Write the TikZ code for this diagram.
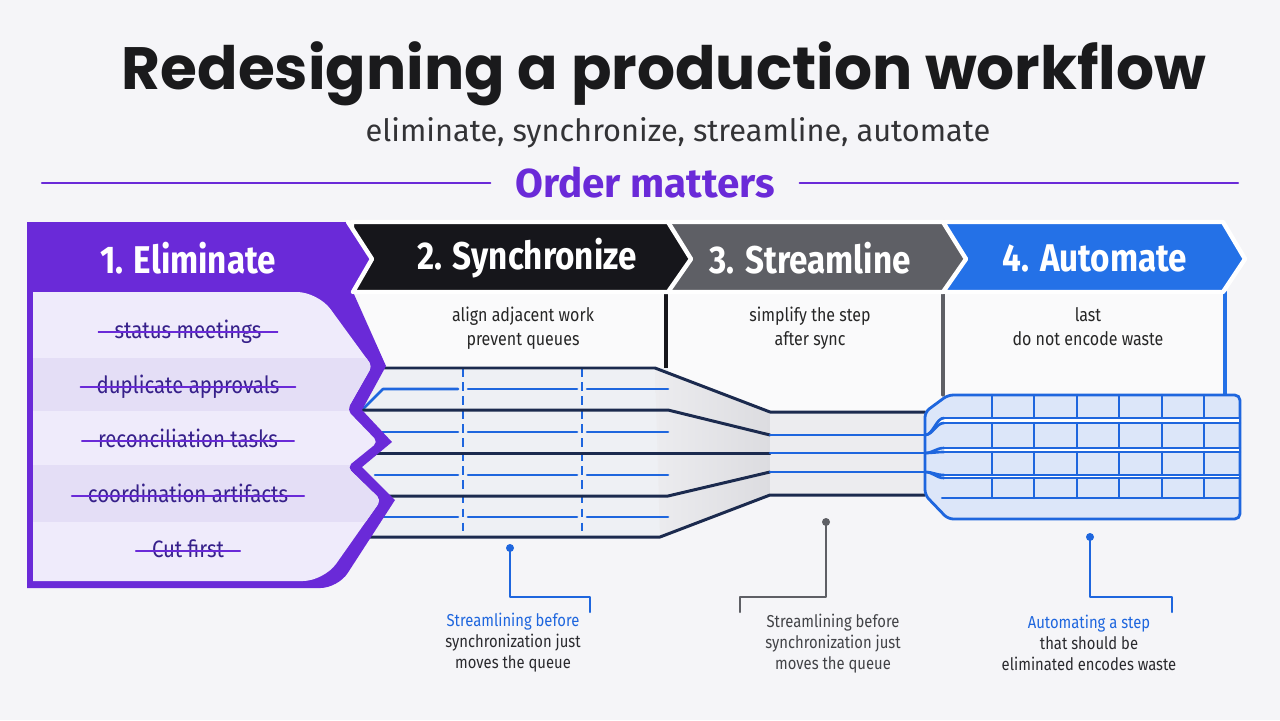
\documentclass[tikz,border=0pt]{standalone}
\usepackage{fontspec}
\setmainfont{Fira Sans}
\newfontfamily\titlefont{Poppins}
\newfontfamily\narrowfont{Fira Sans}[FakeStretch=0.86]
\usepackage{xcolor}
\usetikzlibrary{arrows.meta}

\definecolor{pagebg}{HTML}{F5F5F8}
\definecolor{titleink}{HTML}{1A1A1C}
\definecolor{subink}{HTML}{333336}
\definecolor{elimpurple}{HTML}{6A2AD8}
\definecolor{lavender}{HTML}{EFEBFB}
\definecolor{lavenderdark}{HTML}{E4DEF6}
\definecolor{inkpurple}{HTML}{36208A}
\definecolor{syncblack}{HTML}{16161B}
\definecolor{streamgray}{HTML}{5E5F65}
\definecolor{autoblue}{HTML}{2471E7}
\definecolor{pipeblue}{HTML}{1E66DE}
\definecolor{pipedark}{HTML}{1B2A4E}
\definecolor{pipefill}{HTML}{EEF0F4}
\definecolor{narrowfill}{HTML}{ECECEF}
\definecolor{funnelgray}{HTML}{DCDCE0}
\definecolor{gridfill}{HTML}{DCE6F9}
\definecolor{noteink}{HTML}{2A2A2E}

\tikzset{
  titletext/.style={text=titleink, font=\titlefont\bfseries\fontsize{34}{38}\selectfont},
  subtext/.style={text=subink, font=\fontsize{17.5}{20}\selectfont},
  ordertext/.style={text=elimpurple, font=\bfseries\fontsize{23}{26}\selectfont, inner xsep=14pt},
  rule/.style={elimpurple, line width=1.2pt},
  headtext/.style={text=white, font=\narrowfont\bfseries\fontsize{22}{25}\selectfont},
  desctext/.style={text=black!85, font=\narrowfont\fontsize{10.6}{13.7}\selectfont, align=center},
  elimitem/.style={text=inkpurple, font=\narrowfont\fontsize{13.5}{15}\selectfont,
    text height=7.1pt, text depth=0pt, inner xsep=9pt, inner ysep=0pt},
  strike/.style={elimpurple, line width=1pt},
  pipedarkline/.style={pipedark, line width=1.7pt},
  pipeblueline/.style={pipeblue, line width=1.5pt},
  dashdiv/.style={pipeblue, line width=1.1pt, dash pattern=on 5pt off 3pt, line cap=butt},
  gridline/.style={pipeblue, line width=1.2pt},
  notetext/.style={text=noteink, font=\narrowfont\fontsize{9.8}{12}\selectfont, align=center},
  noteblue/.style={pipeblue, line width=1.2pt},
  notegray/.style={streamgray, line width=1.2pt},
}

\begin{document}
\begin{tikzpicture}[x=0.02cm, y=-0.02cm, line join=round, line cap=round]

    % background and page size
    \path[fill=pagebg] (0,0) rectangle (1280,720);
    \useasboundingbox (0,0) rectangle (1280,720);

    % ==========================================
    % Title
    % ==========================================
    \node[titletext] (title) at (664,74) {Redesigning a production workflow};
    \node[subtext] (subtitle) at (678,133) {eliminate, synchronize, streamline, automate};
    \node[ordertext] (order) at (645,183) {Order matters};
    \coordinate (ruleL) at (42,183);
    \coordinate (ruleR) at (1238,183);
    \draw[rule] (ruleL) -- (order.west);
    \draw[rule] (order.east) -- (ruleR);

    % ==========================================
    % Description areas under the headers
    % ==========================================
    \path[fill=white, opacity=0.5] (360,292) rectangle (666,368);
    \path[fill=white, opacity=0.5] (666,292) rectangle (943,412);
    \path[fill=white, opacity=0.5] (943,292) rectangle (1225,395);
    \draw[syncblack, line width=1.8pt] (666,292) -- (666,368);
    \draw[streamgray, line width=1.8pt] (943,292) -- (943,395);
    \draw[autoblue, line width=1.8pt] (1225,292) -- (1225,395);

    \node[desctext] (syncdesc) at (523,328) {align adjacent work\\prevent queues};
    \node[desctext] (streamdesc) at (810,328) {simplify the step\\after sync};
    \node[desctext] (autodesc) at (1088,327) {last\\do not encode waste};

    % ==========================================
    % Synchronize pipe and funnel
    % ==========================================
    \path[fill=pipefill] (355,368) rectangle (668,537);
    \shade[left color=narrowfill, right color=funnelgray] (655,368) -- (770,412) -- (770,495) -- (660,537) -- cycle;
    \path[fill=narrowfill] (770,412) rectangle (925,495);

    % dashed dividers
    \foreach \x in {463,582}
        \draw[dashdiv] (\x,368) -- (\x,537);

    % blue lanes
    \draw[pipeblueline] (362,410) -- (383,389) -- (458,389);
    \draw[pipeblueline] (468,389) -- (577,389);
    \draw[pipeblueline] (587,389) -- (668,389);
    \foreach \y in {432,475,517} {
        \draw[pipeblueline] (375,\y) -- (458,\y);
        \draw[pipeblueline] (468,\y) -- (577,\y);
        \draw[pipeblueline] (587,\y) -- (668,\y);
    }

    % dark lanes
    \draw[pipedarkline] (362,368) -- (655,368) -- (770,412) -- (925,412);
    \draw[pipedarkline] (362,410) -- (668,410) -- (770,435);
    \draw[pipedarkline] (362,453) -- (770,453);
    \draw[pipedarkline] (362,496) -- (668,496) -- (770,472);
    \draw[pipedarkline] (365,537) -- (660,537) -- (770,495) -- (925,495);
    \draw[pipeblueline] (770,435) -- (925,435);
    \draw[pipeblueline] (770,453) -- (925,453);
    \draw[pipeblueline] (770,472) -- (925,472);

    % ==========================================
    % Automate grid
    % ==========================================
    \path[fill=gridfill, draw=pipeblue, line width=1.6pt, rounded corners=3pt]
        (925,412) -- (948,395) -- (1240,395) -- (1240,519) -- (948,519) -- (925,495) -- cycle;
    \foreach \ya/\yb in {418/423, 448/452, 475/478} {
        \fill[white] (940,\ya) rectangle (1239,\yb);
        \draw[gridline] (942,\ya) -- (1240,\ya);
        \draw[gridline] (942,\yb) -- (1240,\yb);
    }
    \draw[gridline] (942,498) -- (1240,498);
    \foreach \x in {992,1034,1077,1119,1162,1204}
        \foreach \ya/\yb in {395/418, 423/448, 452/475, 478/498}
            \draw[gridline] (\x,\ya) -- (\x,\yb);

    % lanes fanning into the grid
    \draw[pipeblueline] (925,435) .. controls (933,435) and (936,418) .. (944,418);
    \draw[pipeblueline] (925,435) .. controls (933,435) and (936,423) .. (944,423);
    \draw[pipeblueline] (925,453) .. controls (933,453) and (936,448) .. (944,448);
    \draw[pipeblueline] (925,453) .. controls (933,453) and (936,452) .. (944,452);
    \draw[pipeblueline] (925,472) .. controls (933,472) and (936,475) .. (944,475);
    \draw[pipeblueline] (925,472) .. controls (933,472) and (936,478) .. (944,478);

    % ==========================================
    % Header chevrons
    % ==========================================
    \path[fill=autoblue, draw=white, line width=2.5pt] (945,222) -- (1223,222) -- (1245,259) -- (1223,292) -- (945,292) -- cycle;
    \path[fill=streamgray, draw=white, line width=2.5pt] (668,222) -- (943,222) -- (966,259) -- (943,292) -- (668,292) -- cycle;
    \path[fill=syncblack, draw=white, line width=2.5pt] (352,222) -- (668,222) -- (691,259) -- (668,292) -- (352,292) -- cycle;

    % ==========================================
    % 1. Eliminate panel
    % ==========================================
    \path[fill=elimpurple] (27,588) -- (27,222) -- (348,222) -- (372,259) -- (353,292) -- (386,366)
        -- (362,410) -- (392,442) -- (362,467) -- (395,500) [rounded corners=10pt] -- (338,588) [sharp corners] -- cycle;
    \draw[white, line width=2.5pt] (348,222) -- (372,259) -- (353,292);
    \path[fill=lavender, save path=\elimpath] (33,581) -- (33,292) [rounded corners=12pt] -- (318,292) [rounded corners=3pt] -- (372,366)
        -- (347,410) -- (378,442) -- (347,467) -- (381,500) [rounded corners=12pt] -- (324,581) [sharp corners] -- cycle;
    \begin{scope}
        \clip[use path=\elimpath];
        \fill[lavenderdark] (27,358) rectangle (400,411);
        \fill[lavenderdark] (27,465) rectangle (400,522);
    \end{scope}

    % crossed-out items
    \node[elimitem] (itemA) at (188,332) {status meetings};
    \node[elimitem] (itemB) at (188,387) {duplicate approvals};
    \node[elimitem] (itemC) at (188,441) {reconciliation tasks};
    \node[elimitem] (itemD) at (188,496) {coordination artifacts};
    \node[elimitem] (itemE) at (188,551) {Cut first};
    \foreach \n in {itemA,itemB,itemC,itemD,itemE}
        \draw[strike] (\n.west) -- (\n.east);

    % header labels
    \node[headtext] (elimhead) at (188,258) {1. Eliminate};
    \node[headtext] (synchead) at (527,258) {2. Synchronize};
    \node[headtext] (streamhead) at (810,258) {3. Streamline};
    \node[headtext] (autohead) at (1095,258) {4. Automate};

    % ==========================================
    % Callouts
    % ==========================================
    \coordinate (dotone) at (510,548);
    \coordinate (bendone) at (590,597);
    \node[notetext] (noteone) at (513,643) {\textcolor{pipeblue}{Streamlining before}\\synchronization just\\moves the queue};
    \coordinate (tipone) at (590,612);
    \fill[pipeblue] (dotone) circle (4);
    \draw[noteblue] (dotone) |- (bendone) -- (tipone);

    \coordinate (dottwo) at (826,522);
    \coordinate (bendtwo) at (740,597);
    \node[notetext, text=streamgray!70!black] (notetwo) at (833,644) {Streamlining before\\synchronization just\\moves the queue};
    \coordinate (tiptwo) at (740,612);
    \fill[streamgray] (dottwo) circle (4);
    \draw[notegray] (dottwo) |- (bendtwo) -- (tiptwo);

    \coordinate (dotthree) at (1090,537);
    \coordinate (bendthree) at (1172,597);
    \node[notetext] (notethree) at (1089,643) {\textcolor{pipeblue}{Automating a step}\\that should be\\eliminated encodes waste};
    \coordinate (tipthree) at (1172,612);
    \fill[pipeblue] (dotthree) circle (4);
    \draw[noteblue] (dotthree) |- (bendthree) -- (tipthree);

\end{tikzpicture}
\end{document}
